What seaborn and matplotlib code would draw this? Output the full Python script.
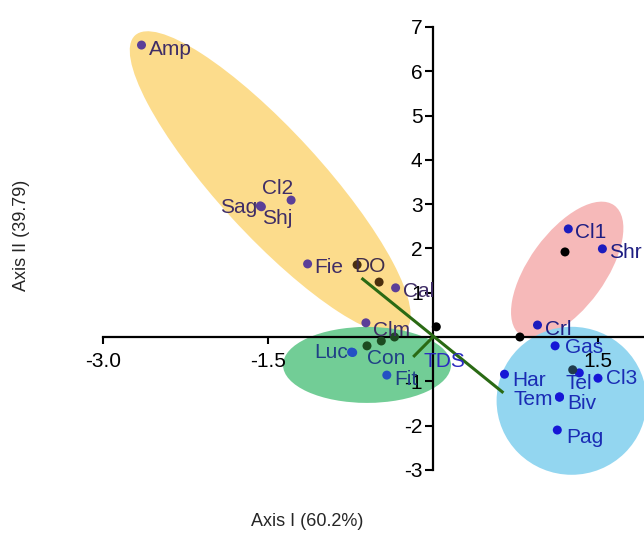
import numpy as np
import pandas as pd
import matplotlib.pyplot as plt
import matplotlib.transforms as transforms
from matplotlib.patches import Ellipse
import seaborn as sns

# species scores on the two axes
species = ['Amp', 'Cl2', 'Sag', 'Shj', 'Fie', 'Cal', 'Clm',
           'Luc', 'Con', 'Fit',
           'Cl1', 'Shr', 'Crl',
           'Gas', 'Har', 'Tel', 'Cl3', 'Tem', 'Biv', 'Pag']
axis1 = [-2.65, -1.29, -1.57, -1.56, -1.14, -0.34, -0.61,
         -0.74, -0.73, -0.42,
         1.23, 1.54, 0.95,
         1.11, 0.65, 1.33, 1.50, 1.15, 1.15, 1.13]
axis2 = [6.59, 3.09, 2.96, 2.94, 1.65, 1.11, 0.32,
         -0.34, -0.35, -0.86,
         2.44, 1.99, 0.27,
         -0.20, -0.84, -0.81, -0.93, -1.35, -1.36, -2.10]
group = ['yellow'] * 7 + ['green'] * 3 + ['pink'] * 3 + ['blue'] * 7

# dark (centroid / variable) points
cen_names = ['DO', '', '', '', '', '', '', '', '']
cen_x = [-0.69, -0.49, 0.03, -0.60, -0.47, -0.35, 0.79, 1.20, 1.27]
cen_y = [1.63, 1.24, 0.23, -0.20, -0.09, 0.00, 0.00, 1.92, -0.74]
cen_group = ['c_yellow', 'c_yellow', 'c', 'c_green', 'c_green', 'c_green', 'c', 'c', 'c_blue']

# green vectors
vec_start_x = [-0.65, 0.0]
vec_start_y = [1.33, 0.0]
vec_end_x = [0.64, -0.18]
vec_end_y = [-1.26, -0.45]
vec_label = ['', 'TDS']

# group ellipses (centre in data units, size in inches)
ell_group = ['yellow', 'green', 'pink', 'blue']
ell_cx = [-1.48, -0.60, 1.22, 1.26]
ell_cy = [3.48, -0.63, 1.51, -1.44]
ell_w = [4.00, 1.68, 1.60, 1.50]
ell_h = [1.04, 0.76, 0.76, 1.48]
ell_ang = [-47.5, 0, 54, 0]

fill = {'yellow': '#FCDC8C', 'green': '#72CD96', 'pink': '#F6B9B9', 'blue': '#93D6F0'}
pt_col = {'yellow': '#5B3F98', 'green': '#2450C4', 'pink': '#1C1CBE', 'blue': '#1616D6',
          'c': '#000000', 'c_yellow': '#4A2F0E', 'c_green': '#1C4B20', 'c_blue': '#1F3A4C'}
txt_col = {'yellow': '#3F2D66', 'green': '#1F3F86', 'pink': '#1E1E82', 'blue': '#1A2CB4',
           'c_yellow': '#3F2D4A'}

# label placement (offset in pixels, alignment)
offsets = {'Sag': (-3, -2, 'right'), 'Shj': (1, -12, 'left'), 'Cl2': (2, 12, 'right'),
           'Luc': (-4, 0, 'right'), 'Con': (14, -6, 'left'), 'Tel': (0, -11, 'center'),
           'Tem': (-7, -3, 'right'), 'Biv': (8, -6, 'left'), 'Clm': (7, -8, 'left'),
           'Gas': (10, -2, 'left'), 'Har': (8, -6, 'left'), 'Pag': (9, -7, 'left'),
           'Cl3': (8, 0, 'left'), 'DO': (-3, -2, 'left')}

sp = pd.DataFrame({'axis1': axis1, 'axis2': axis2, 'group': group, 'name': species})
cen = pd.DataFrame({'axis1': cen_x, 'axis2': cen_y, 'group': cen_group, 'name': cen_names})

sns.set_style('white')
plt.rcParams['font.family'] = ['Liberation Sans', 'DejaVu Sans']
plt.rcParams['axes.unicode_minus'] = False

fig = plt.figure(figsize=(6.44, 5.40), dpi=100)
ax = fig.add_axes([0, 0, 1, 1])
ax.set_facecolor('none')
xmin, xmax = -433 / 110, 211 / 110
ax.set_xlim(xmin, xmax)
ax.set_ylim(-203 / 44.3, 337 / 44.3)

for g, cx, cy, w, h, a in zip(ell_group, ell_cx, ell_cy, ell_w, ell_h, ell_ang):
    tr = fig.dpi_scale_trans + transforms.ScaledTranslation(cx, cy, ax.transData)
    ax.add_patch(Ellipse((0, 0), w, h, angle=a, transform=tr,
                         facecolor=fill[g], edgecolor='none', zorder=0.2))

for x0, y0, x1, y1 in zip(vec_start_x, vec_start_y, vec_end_x, vec_end_y):
    ax.plot([x0, x1], [y0, y1], color='#2A6A14', lw=2.2, zorder=2, solid_capstyle='butt')

sns.scatterplot(data=sp, x='axis1', y='axis2', hue='group', palette=pt_col,
                s=42, linewidth=0, legend=False, ax=ax, zorder=3)
sns.scatterplot(data=cen, x='axis1', y='axis2', hue='group', palette=pt_col,
                s=42, linewidth=0, legend=False, ax=ax, zorder=3)

for _, r in pd.concat([sp, cen]).iterrows():
    if not r['name']:
        continue
    dx, dy, ha = offsets.get(r['name'], (7, -4, 'left'))
    ax.annotate(r['name'], (r['axis1'], r['axis2']), xytext=(dx, dy),
                textcoords='offset pixels', ha=ha, va='center', fontsize=15,
                color=txt_col[r['group']], zorder=3)

for x1, y1, lab in zip(vec_end_x, vec_end_y, vec_label):
    if lab:
        ax.annotate(lab, (x1, y1), xytext=(10, -5), textcoords='offset pixels',
                    ha='left', va='center', fontsize=15, color='#2B2BC0')

for s in ['top', 'right']:
    ax.spines[s].set_visible(False)
ax.spines['left'].set_position(('data', 0))
ax.spines['bottom'].set_position(('data', 0))
ax.spines['left'].set_bounds(-3, 7)
ax.spines['bottom'].set_bounds(-3, xmax)
for s in ['left', 'bottom']:
    ax.spines[s].set_linewidth(1.6)
    ax.spines[s].set_color('black')
    ax.spines[s].set_zorder(1)

ax.set_xticks([-3, -1.5, 1.5], ['-3.0', '-1.5', '1.5'])
ax.set_yticks([-3, -2, -1, 1, 2, 3, 4, 5, 6, 7])
ax.tick_params(bottom=True, left=True, direction='out', width=1.5, colors='black',
               labelsize=15)
ax.tick_params(axis='x', length=5, pad=6)
ax.tick_params(axis='y', length=6, pad=1.5)
ax.set_xlabel('')
ax.set_ylabel('')

fig.text(307 / 644, 1 - 522 / 540, 'Axis I (60.2%)', ha='center', va='center', fontsize=13)
fig.text(22 / 644, 1 - 235 / 540, 'Axis II (39.79)', rotation=90, ha='center',
         va='center', fontsize=13)

fig.savefig('out.png', dpi=100)
